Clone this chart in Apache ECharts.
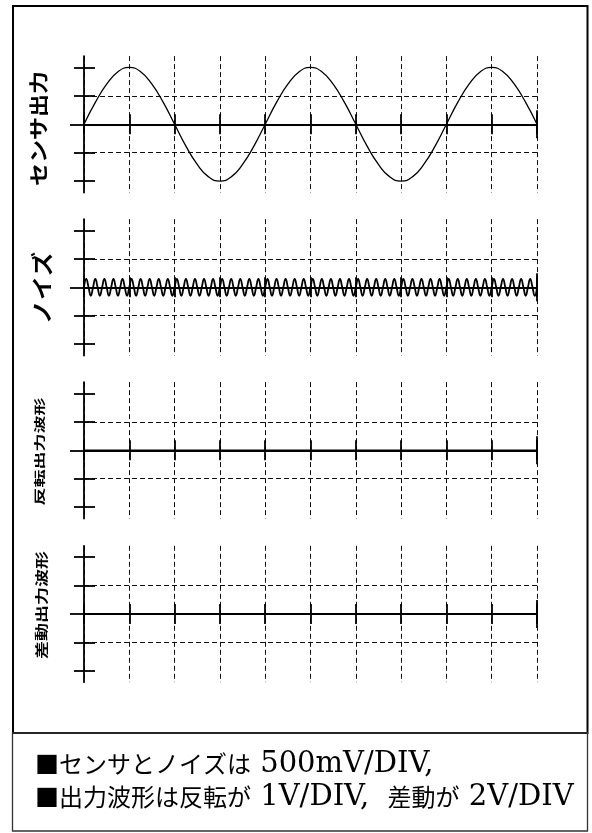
<!DOCTYPE html>
<html><head><meta charset="utf-8">
<script src="https://cdn.jsdelivr.net/npm/echarts@6/dist/echarts.min.js"></script>
<style>html,body{margin:0;padding:0;background:#fff}#c{width:592px;height:833px}</style>
</head><body><div id="c"></div>
<script>
// ---- data ----
const panelLabels = ['センサ出力', 'ノイズ', '反転出力波形', '差動出力波形'];
const yGridLevels = [-2, -1, 1, 2];      // divisions
const yZeroTick = [0];
const xEndTick = [10];
const xDivisions = 10;

const sensorStep = 0.25; // div per sample
const sensor = [0,0.77,1.41,1.85,2,1.85,1.41,0.77,0,-0.77,-1.41,-1.85,-2,-1.85,-1.41,-0.77,
                0,0.77,1.41,1.85,2,1.85,1.41,0.77,0,-0.77,-1.41,-1.85,-2,-1.85,-1.41,-0.77,
                0,0.77,1.41,1.85,2,1.85,1.41,0.77,0];

const noiseStep = 0.05;
const noise = [
 0,0.3,0,-0.3, 0,0.3,0,-0.3, 0,0.3,0,-0.3, 0,0.3,0,-0.3, 0,0.3,0,-0.3,
 0,0.3,0,-0.3, 0,0.3,0,-0.3, 0,0.3,0,-0.3, 0,0.3,0,-0.3, 0,0.3,0,-0.3,
 0,0.3,0,-0.3, 0,0.3,0,-0.3, 0,0.3,0,-0.3, 0,0.3,0,-0.3, 0,0.3,0,-0.3,
 0,0.3,0,-0.3, 0,0.3,0,-0.3, 0,0.3,0,-0.3, 0,0.3,0,-0.3, 0,0.3,0,-0.3,
 0,0.3,0,-0.3, 0,0.3,0,-0.3, 0,0.3,0,-0.3, 0,0.3,0,-0.3, 0,0.3,0,-0.3,
 0,0.3,0,-0.3, 0,0.3,0,-0.3, 0,0.3,0,-0.3, 0,0.3,0,-0.3, 0,0.3,0,-0.3,
 0,0.3,0,-0.3, 0,0.3,0,-0.3, 0,0.3,0,-0.3, 0,0.3,0,-0.3, 0,0.3,0,-0.3,
 0,0.3,0,-0.3, 0,0.3,0,-0.3, 0,0.3,0,-0.3, 0,0.3,0,-0.3, 0,0.3,0,-0.3,
 0,0.3,0,-0.3, 0,0.3,0,-0.3, 0,0.3,0,-0.3, 0,0.3,0,-0.3, 0,0.3,0,-0.3,
 0,0.3,0,-0.3, 0,0.3,0,-0.3, 0,0.3,0,-0.3, 0,0.3,0,-0.3, 0,0.3,0,-0.3,
 0];

const invertedStep = 10;
const inverted = [0, 0];
const differentialStep = 10;
const differential = [0, 0];

const noteLine1 = [['c', '■センサとノイズは'], ['l', ' 500mV/DIV,']];
const noteLine2 = [['c', '■出力波形は反転が'], ['l', ' 1V/DIV,  '], ['c', '差動が'], ['l', ' 2V/DIV']];

// ---- layout ----
const centers = [124.3, 287.3, 450.3, 614];
const halfH = 68.2;
const waves = [[sensor, sensorStep, 1.3], [noise, noiseStep, 1.8], [inverted, invertedStep, 1.8], [differential, differentialStep, 1.8]];
const labelPos = [[38.5, 128.5, 23, 0.85], [41.5, 288, 24, 0.9], [40, 451.5, 18, 0.65], [41, 605, 18, 0.7]];

const solid = { color: '#000', width: 1.8 };
const dash = { type: [5, 3], color: '#111', width: 1 };
const grids = [], xAxes = [], yAxes = [], series = [];

centers.forEach((c, p) => {
  grids.push({ left: 84, width: 453, top: c - halfH, height: 2 * halfH, outerBoundsMode: 'none' });
  const xi = xAxes.length, yi = yAxes.length;
  const xBase = (extra) => Object.assign({
    type: 'value', gridIndex: p, min: 0, max: xDivisions, interval: 1,
    axisLabel: { show: false }, splitLine: { show: false },
    axisLine: { show: false, onZero: true, onZeroAxisIndex: yi }
  }, extra);
  xAxes.push(xBase({ position: 'bottom',
    axisLine: { show: true, onZero: true, onZeroAxisIndex: yi, lineStyle: solid },
    axisTick: { show: true, length: 10, lineStyle: solid },
    splitLine: { show: true, lineStyle: dash } }));
  xAxes.push(xBase({ position: 'top', axisTick: { show: true, length: 10, lineStyle: solid } }));
  xAxes.push(xBase({ position: 'bottom', axisTick: { show: true, length: 14, customValues: xEndTick, lineStyle: solid } }));
  xAxes.push(xBase({ position: 'top', axisTick: { show: true, length: 14, customValues: xEndTick, lineStyle: solid } }));

  const yBase = (extra) => Object.assign({
    type: 'value', gridIndex: p, min: -2.4, max: 2.4, position: 'left',
    axisLabel: { show: false }, splitLine: { show: false },
    axisLine: { show: false }
  }, extra);
  yAxes.push(yBase({ axisLine: { show: true, lineStyle: solid },
    axisTick: { show: true, length: 10, customValues: yGridLevels, lineStyle: solid },
    splitLine: { show: true, showMinLine: false, showMaxLine: false, lineStyle: dash } }));
  yAxes.push(yBase({ axisTick: { show: true, inside: true, length: 11, customValues: yGridLevels, lineStyle: solid } }));
  yAxes.push(yBase({ axisTick: { show: true, length: 14, customValues: yZeroTick, lineStyle: solid } }));

  const [vals, step, w] = waves[p];
  series.push({ type: 'line', xAxisIndex: xi, yAxisIndex: yi, data: vals.map((v, i) => [i * step, v]),
    smooth: true, showSymbol: false, silent: true, lineStyle: { color: '#000', width: w }, z: 5 });
});

const graphic = [
  { type: 'rect', shape: { x: 13, y: 6, width: 574.5, height: 727 }, style: { fill: 'none', stroke: '#000', lineWidth: 2 } },
  { type: 'rect', shape: { x: 12.5, y: 733, width: 575, height: 98 }, style: { fill: 'none', stroke: '#333', lineWidth: 1.3 } }
];
panelLabels.forEach((t, p) => {
  const [x, y, fs, sy] = labelPos[p];
  graphic.push({ type: 'text', x: x, y: y, rotation: Math.PI / 2, scaleY: sy,
    style: { text: t, fontSize: fs, fontWeight: 'bold', fontFamily: '"Noto Sans CJK JP"', fill: '#000', align: 'center', verticalAlign: 'middle' } });
});
const rich = {
  c: { fontSize: 24, fontFamily: '"Noto Sans CJK JP"', fill: '#000' },
  l: { fontSize: 29, fontFamily: '"DejaVu Serif"', fill: '#000' }
};
[[noteLine1, 764], [noteLine2, 797]].forEach(([segs, y]) => {
  graphic.push({ type: 'text', x: 35, y: y,
    style: { text: segs.map(s => '{' + s[0] + '|' + s[1] + '}').join(''), rich: rich, verticalAlign: 'middle', align: 'left' } });
});

const chart = echarts.init(document.getElementById('c'), null, { renderer: 'canvas' });
chart.setOption({ animation: false, backgroundColor: '#fff', grid: grids, xAxis: xAxes, yAxis: yAxes, series: series, graphic: graphic });
</script></body></html>
